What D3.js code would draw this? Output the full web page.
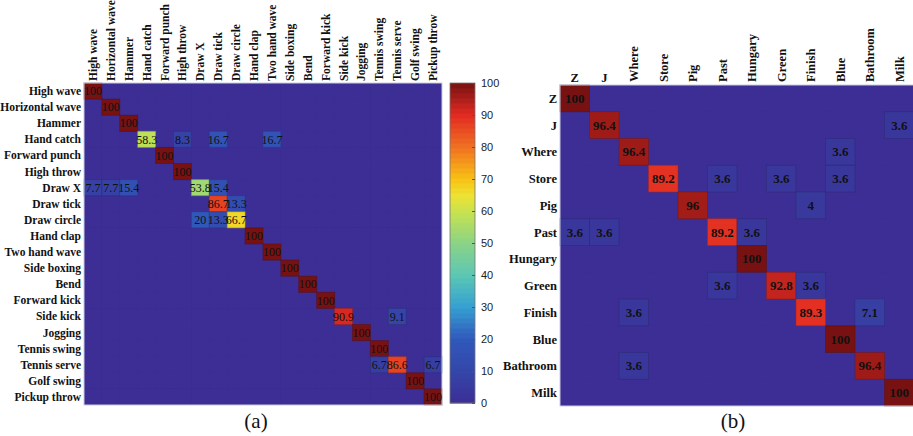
<!DOCTYPE html>
<html>
<head>
<meta charset="utf-8">
<script src="https://cdn.jsdelivr.net/npm/d3@7"></script>
<style>
  body { margin: 0; background: #fff; }
  svg { display: block; }
</style>
</head>
<body>
<svg id="chart" width="913" height="436"></svg>
<script>
// --- data ---
const leftLabels = ["High wave", "Horizontal wave", "Hammer", "Hand catch", "Forward punch",
  "High throw", "Draw X", "Draw tick", "Draw circle", "Hand clap", "Two hand wave",
  "Side boxing", "Bend", "Forward kick", "Side kick", "Jogging", "Tennis swing",
  "Tennis serve", "Golf swing", "Pickup throw"];
// [row, col, value] of the non-zero cells
const leftCells = [
  [0, 0, 100], [1, 1, 100], [2, 2, 100],
  [3, 3, 58.3], [3, 5, 8.3], [3, 7, 16.7], [3, 10, 16.7],
  [4, 4, 100], [5, 5, 100],
  [6, 0, 7.7], [6, 1, 7.7], [6, 2, 15.4], [6, 6, 53.8], [6, 7, 15.4],
  [7, 7, 86.7], [7, 8, 13.3],
  [8, 6, 20], [8, 7, 13.3], [8, 8, 66.7],
  [9, 9, 100], [10, 10, 100], [11, 11, 100], [12, 12, 100], [13, 13, 100],
  [14, 14, 90.9], [14, 17, 9.1],
  [15, 15, 100], [16, 16, 100],
  [17, 16, 6.7], [17, 17, 86.6], [17, 19, 6.7],
  [18, 18, 100], [19, 19, 100]
];

const rightLabels = ["Z", "J", "Where", "Store", "Pig", "Past", "Hungary", "Green",
  "Finish", "Blue", "Bathroom", "Milk"];
const rightCells = [
  [0, 0, 100],
  [1, 1, 96.4], [1, 11, 3.6],
  [2, 2, 96.4], [2, 9, 3.6],
  [3, 3, 89.2], [3, 5, 3.6], [3, 7, 3.6], [3, 9, 3.6],
  [4, 4, 96], [4, 8, 4],
  [5, 0, 3.6], [5, 1, 3.6], [5, 5, 89.2], [5, 6, 3.6],
  [6, 6, 100],
  [7, 5, 3.6], [7, 7, 92.8], [7, 8, 3.6],
  [8, 2, 3.6], [8, 8, 89.3], [8, 10, 7.1],
  [9, 9, 100],
  [10, 2, 3.6], [10, 10, 96.4],
  [11, 11, 100]
];

const colorbarTicks = [0, 10, 20, 30, 40, 50, 60, 70, 80, 90, 100];

// jet-like colormap
const color = d3.scaleLinear()
  .domain([0, 10, 20, 30, 40, 50, 60, 65, 70, 80, 90, 100])
  .range(["#3c2e95", "#3546a9", "#3058bb", "#35a0d2", "#5cc7b4", "#8ad386",
          "#c9e24e", "#eee232", "#f8c214", "#f07122", "#e22b22", "#781212"])
  .interpolate(d3.interpolateRgb)
  .clamp(true);

const svg = d3.select("#chart");
const serif = "'Liberation Serif', 'Times New Roman', serif";
const sans = "'Liberation Sans', Arial, sans-serif";

function fullMatrix(n, cells) {
  const m = [];
  for (let r = 0; r < n; r++) for (let c = 0; c < n; c++) m.push({ r, c, v: 0 });
  cells.forEach(([r, c, v]) => { m[r * n + c].v = v; });
  return m;
}

function drawMatrix(opt) {
  const n = opt.labels.length;
  const x = d3.scaleBand().domain(d3.range(n)).range(opt.xr);
  const y = d3.scaleBand().domain(d3.range(n)).range(opt.yr);
  const g = svg.append("g");

  // base fill so cell seams do not show
  g.append("rect")
    .attr("x", opt.xr[0]).attr("y", opt.yr[0])
    .attr("width", opt.xr[1] - opt.xr[0]).attr("height", opt.yr[1] - opt.yr[0])
    .attr("fill", color(0));

  const data = fullMatrix(n, opt.cells);
  g.selectAll("rect.cell")
    .data(data.filter(d => d.v === 0).concat(data.filter(d => d.v > 0)))
    .join("rect")
    .attr("class", "cell")
    .attr("x", d => x(d.c))
    .attr("y", d => y(d.r))
    .attr("width", x.bandwidth())
    .attr("height", y.bandwidth())
    .attr("fill", d => color(d.v))
    .attr("stroke", d => d.v > 0 ? d3.color(color(d.v)).darker(0.9) : "none")
    .attr("stroke-opacity", 0.5)
    .attr("stroke-width", 1);

  // frame
  g.append("rect")
    .attr("x", opt.xr[0]).attr("y", opt.yr[0])
    .attr("width", opt.xr[1] - opt.xr[0]).attr("height", opt.yr[1] - opt.yr[0])
    .attr("fill", "none").attr("stroke", "#c8cce0").attr("stroke-width", 1);

  // values
  g.selectAll("text.val")
    .data(data.filter(d => d.v > 0))
    .join("text")
    .attr("class", "val")
    .attr("x", d => x(d.c) + x.bandwidth() / 2)
    .attr("y", d => y(d.r) + y.bandwidth() / 2)
    .attr("dy", "0.35em")
    .attr("text-anchor", "middle")
    .style("font-family", serif)
    .style("font-size", opt.valSize + "px")
    .style("font-weight", opt.valWeight)
    .style("fill", "#111")
    .text(d => d.v);

  // row labels
  g.selectAll("text.row")
    .data(opt.labels)
    .join("text")
    .attr("class", "row")
    .attr("x", opt.xr[0] - 3)
    .attr("y", (d, i) => y(i) + y.bandwidth() / 2)
    .attr("dy", "0.35em")
    .attr("text-anchor", "end")
    .style("font-family", serif)
    .style("font-size", opt.labSize + "px")
    .style("font-weight", "bold")
    .style("fill", "#111")
    .text(d => d);

  // column labels
  g.selectAll("text.col")
    .data(opt.labels)
    .join("text")
    .attr("class", "col")
    .attr("transform", (d, i) => {
      const cx = x(i) + x.bandwidth() / 2;
      const cy = opt.yr[0] - opt.colGap;
      return opt.upright.includes(d) ? `translate(${cx},${cy})` : `translate(${cx},${cy}) rotate(-90)`;
    })
    .attr("dy", d => opt.upright.includes(d) ? "0" : "0.35em")
    .attr("text-anchor", d => opt.upright.includes(d) ? "middle" : "start")
    .style("font-family", serif)
    .style("font-size", opt.colSize + "px")
    .style("font-weight", "bold")
    .style("fill", "#111")
    .text(d => d);
}

drawMatrix({
  id: "a", labels: leftLabels, cells: leftCells,
  xr: [84, 442], yr: [83, 405],
  valSize: 12, valWeight: "normal", labSize: 11.5, colSize: 11.5, colGap: 2, upright: []
});

drawMatrix({
  id: "b", labels: rightLabels, cells: rightCells,
  xr: [560, 914], yr: [85, 406],
  valSize: 13, valWeight: "bold", labSize: 12.5, colSize: 12.5, colGap: 3, upright: ["Z", "J"]
});

// --- colour bar ---
const cb = { x: 450, w: 25, y0: 83, y1: 403 };
const cbScale = d3.scaleLinear().domain([0, 100]).range([cb.y1, cb.y0]);
const steps = d3.range(64);
svg.append("g").selectAll("rect")
  .data(steps)
  .join("rect")
  .attr("x", cb.x)
  .attr("width", cb.w)
  .attr("y", i => cbScale((i + 1) * 100 / 64))
  .attr("height", i => cbScale(i * 100 / 64) - cbScale((i + 1) * 100 / 64) + 0.5)
  .attr("fill", i => color((i + 0.5) * 100 / 64));

svg.append("rect")
  .attr("x", cb.x).attr("y", cb.y0).attr("width", cb.w).attr("height", cb.y1 - cb.y0)
  .attr("fill", "none").attr("stroke", "#777").attr("stroke-width", 0.8);

const axis = d3.axisRight(cbScale).tickValues(colorbarTicks).tickSize(-3).tickPadding(6);
const ax = svg.append("g").attr("transform", `translate(${cb.x + cb.w},0)`).call(axis);
ax.select(".domain").remove();
ax.selectAll(".tick line").attr("stroke", "#555");
ax.selectAll(".tick text")
  .style("font-family", sans).style("font-size", "11px").attr("fill", "#222");

// --- captions ---
svg.append("text").attr("x", 256).attr("y", 428).attr("text-anchor", "middle")
  .style("font-family", serif).style("font-size", "21px").style("fill", "#111").text("(a)");
svg.append("text").attr("x", 733).attr("y", 428).attr("text-anchor", "middle")
  .style("font-family", serif).style("font-size", "21px").style("fill", "#111").text("(b)");
</script>
</body>
</html>
